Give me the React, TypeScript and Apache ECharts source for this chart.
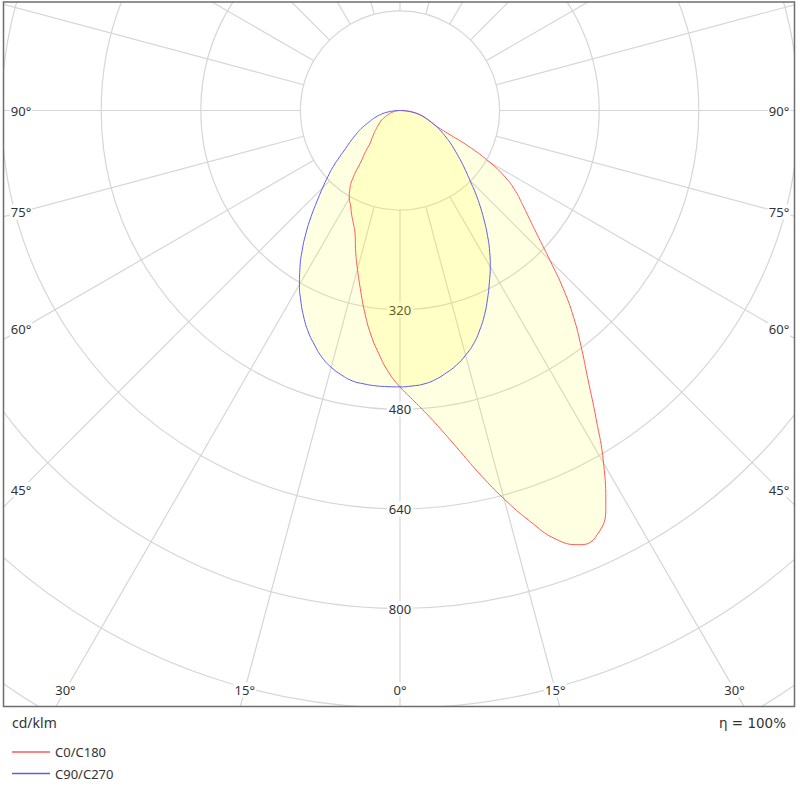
import React, { useEffect, useRef } from "react";
import * as echarts from "echarts";

// Polar angle gamma (degrees from nadir), shared by every half-plane
const gammaDeg = [0, 2.5, 5, 7.5, 10, 12.5, 15, 17.5, 20, 22.5, 25, 27.5, 30, 32.5, 35, 37.5, 40, 42.5, 45, 47.5, 50, 52.5, 55, 57.5, 60, 62.5, 65, 67.5, 70, 72.5, 75, 77.5, 80, 82.5, 85, 87.5, 90];

// Luminous intensity, cd/klm
const c0Values = [444, 465, 489, 519, 556, 600, 646, 691, 733, 755, 751, 716, 654, 586, 526, 478, 434, 388, 341, 302, 272, 248, 227, 202, 167, 123, 77, 60, 52, 45, 39, 33, 27, 20, 13, 7, 0];
const c180Values = [444, 421, 392, 362, 328, 294, 264, 237, 211, 196, 184, 172, 163, 150, 131, 102, 86, 71, 64, 58, 53, 48, 44, 40, 37, 33, 29, 25, 22, 19, 16, 13, 10, 8, 5, 3, 0];
const c90Values = [444, 443, 441, 436, 428, 419, 407, 393, 375, 355, 333, 311, 290, 268, 245, 222, 200, 179, 159, 143, 129, 116, 105, 95, 85, 76, 68, 60, 52, 46, 40, 34, 28, 21, 14, 7, 0];
const c270Values = [444, 444, 444, 443, 441, 435, 427, 416, 401, 385, 366, 345, 323, 299, 274, 248, 222, 197, 176, 157, 140, 122, 107, 96, 86, 77, 69, 60, 52, 46, 40, 34, 28, 21, 14, 7, 0];

const seriesNames = ["C0/C180", "C90/C270"];
const radialTickLabels = [320, 480, 640, 800];
const angleTickLabels = [0, 15, 30, 45, 60, 75, 90];
const gridAngles = [0, 15, 30, 45, 60, 75, 90, 105, 120, 135, 150, 165, 180, 195, 210, 225, 240, 255, 270, 285, 300, 315, 330, 345];
const unitLabel = "cd/klm";
const efficiencyLabel = "η = 100%";

const RADIUS_MAX = 1280;
const RADIUS_STEP = 160;
const CX = 400;
const CY = 110.5;
const PX_PER_UNIT = 0.6225;

const GRID = "#d6d6d6";
const RED = "#ff5a5a";
const BLUE = "#5b5bf5";
const FILL = "rgba(255,255,0,0.17)";
const FONT = "Noto Sans";

function plane(right: number[], left: number[]): [number, number][] {
  const pts: [number, number][] = [];
  for (let i = gammaDeg.length - 1; i >= 1; i--) pts.push([left[i], 360 - gammaDeg[i]]);
  for (let i = 0; i < gammaDeg.length; i++) pts.push([right[i], gammaDeg[i]]);
  return pts;
}

function angleLabelElements() {
  const els: any[] = [];
  angleTickLabels.forEach((a) => {
    const sides = a === 0 ? [1] : [-1, 1];
    sides.forEach((sd) => {
      const rad = (a * Math.PI) / 180;
      const sx = Math.sin(rad);
      const cy = Math.cos(rad);
      const tSide = sx > 1e-6 ? (CX - 21) / sx : Infinity;
      const tBot = cy > 1e-6 ? (690 - CY) / cy : Infinity;
      const t = Math.min(tSide, tBot);
      els.push({
        type: "text",
        x: CX + sd * sx * t,
        y: CY + cy * t,
        z: 50,
        style: {
          text: `${a}°`,
          fill: "#333",
          fontSize: 13,
          fontFamily: FONT,
          align: "center",
          verticalAlign: "middle",
          backgroundColor: "#fff",
          padding: [1, 1],
        },
      });
    });
  });
  return els;
}

export default function App() {
  const ref = useRef<HTMLDivElement>(null);
  useEffect(() => {
    const chart = echarts.init(ref.current!, undefined, { renderer: "svg" });
    const option: any = {
      animation: false,
      backgroundColor: "#fff",
      polar: { center: [CX, CY], radius: RADIUS_MAX * PX_PER_UNIT },
      angleAxis: {
        type: "value",
        min: 0,
        max: 360,
        startAngle: -90,
        clockwise: false,
        axisLine: { show: false },
        axisTick: { show: false },
        axisLabel: { show: false },
        splitLine: { show: false },
      },
      radiusAxis: {
        type: "value",
        min: 0,
        max: RADIUS_MAX,
        interval: RADIUS_STEP,
        axisLine: { show: false },
        axisTick: { show: false },
        axisLabel: { show: false },
        splitLine: { show: true, lineStyle: { color: GRID, width: 1.2 } },
      },
      legend: {
        data: seriesNames,
        orient: "vertical",
        left: 7,
        top: 740.5,
        itemWidth: 38,
        itemHeight: 1.5,
        itemGap: 8.6,
        icon: "rect",
        selectedMode: false,
        z: 200,
        textStyle: { fontFamily: FONT, fontSize: 13, color: "#333" },
      },
      series: [
        {
          type: "custom",
          coordinateSystem: "polar",
          silent: true,
          z: 1,
          data: gridAngles.map((a) => [RADIUS_MAX, a]),
          renderItem: (params: any, api: any) => {
            const a = gridAngles[params.dataIndex];
            const p0 = api.coord([RADIUS_STEP, a]);
            const p1 = api.coord([RADIUS_MAX, a]);
            return {
              type: "line",
              shape: { x1: p0[0], y1: p0[1], x2: p1[0], y2: p1[1] },
              style: { stroke: GRID, lineWidth: 1.2 },
            };
          },
        },
        {
          type: "custom",
          coordinateSystem: "polar",
          silent: true,
          z: 2,
          data: radialTickLabels.map((v) => [v, 0]),
          renderItem: (params: any, api: any) => {
            const v = radialTickLabels[params.dataIndex];
            const p = api.coord([v, 0]);
            return {
              type: "text",
              x: p[0],
              y: p[1],
              style: {
                text: String(v),
                fill: "#333",
                fontSize: 13,
                fontFamily: FONT,
                align: "center",
                verticalAlign: "middle",
                backgroundColor: "#fff",
                padding: [1, 2],
              },
            };
          },
        },
        {
          type: "line",
          name: seriesNames[0],
          coordinateSystem: "polar",
          data: plane(c0Values, c180Values),
          symbol: "none",
          showSymbol: false,
          smooth: 0.5,
          silent: true,
          z: 3,
          lineStyle: { color: RED, width: 1 },
          itemStyle: { color: RED },
          areaStyle: { color: FILL },
        },
        {
          type: "line",
          name: seriesNames[1],
          coordinateSystem: "polar",
          data: plane(c90Values, c270Values),
          symbol: "none",
          showSymbol: false,
          smooth: 0.5,
          silent: true,
          z: 3,
          lineStyle: { color: BLUE, width: 1 },
          itemStyle: { color: BLUE },
          areaStyle: { color: FILL },
        },
      ],
      graphic: {
        elements: [
          { type: "rect", z: 100, silent: true, shape: { x: 0, y: 0, width: 800, height: 2 }, style: { fill: "#fff" } },
          { type: "rect", z: 100, silent: true, shape: { x: 0, y: 0, width: 3.5, height: 791 }, style: { fill: "#fff" } },
          { type: "rect", z: 100, silent: true, shape: { x: 794.5, y: 0, width: 6, height: 791 }, style: { fill: "#fff" } },
          { type: "rect", z: 100, silent: true, shape: { x: 0, y: 706.5, width: 800, height: 85 }, style: { fill: "#fff" } },
          {
            type: "rect",
            z: 101,
            silent: true,
            shape: { x: 3.5, y: 2, width: 791, height: 704.5 },
            style: { fill: "none", stroke: "#6e6e6e", lineWidth: 1.5 },
          },
          {
            type: "text",
            z: 102,
            x: 12,
            y: 722.5,
            style: { text: unitLabel, fill: "#333", fontSize: 14, fontFamily: FONT, align: "left", verticalAlign: "middle" },
          },
          {
            type: "text",
            z: 102,
            x: 786,
            y: 723,
            style: { text: efficiencyLabel, fill: "#333", fontSize: 13.5, fontFamily: "DejaVu Sans", align: "right", verticalAlign: "middle" },
          },
          ...angleLabelElements(),
        ],
      },
    };
    chart.setOption(option);
    return () => chart.dispose();
  }, []);
  return (
    <div
      ref={ref}
      style={{ position: "fixed", left: 0, top: 0, width: 800, height: 791, background: "#fff" }}
    />
  );
}
